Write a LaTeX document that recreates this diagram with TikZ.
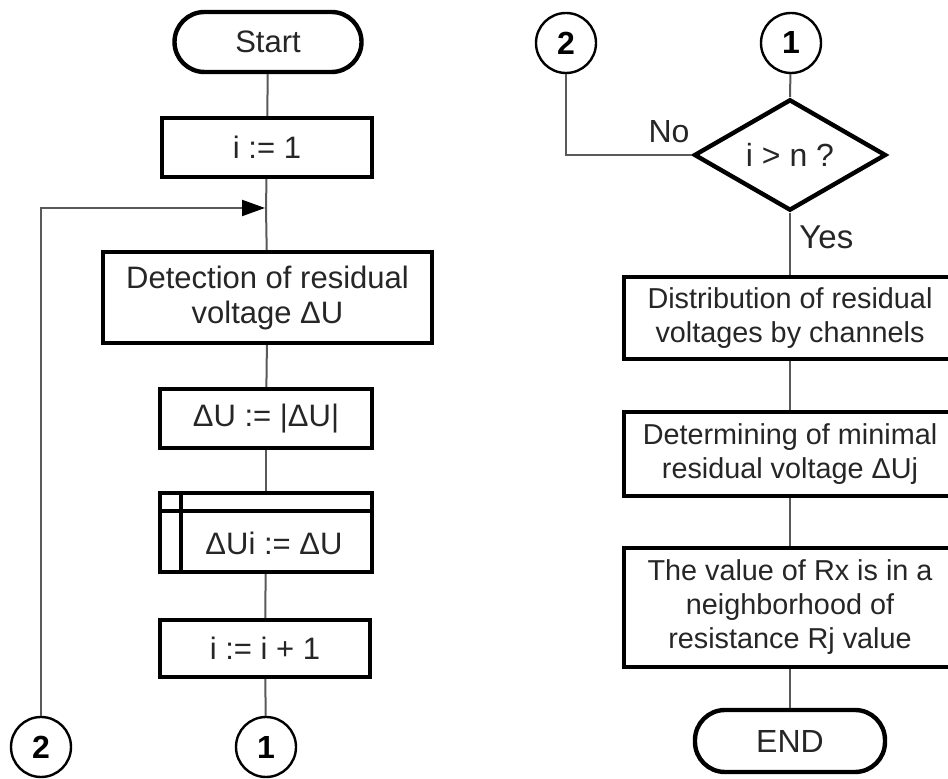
\documentclass[tikz,border=0pt]{standalone}
\usepackage{fontspec}
\setmainfont{Liberation Sans}
\usetikzlibrary{shapes.geometric,arrows.meta}
\begin{document}
\begin{tikzpicture}[x=0.5pt,y=-0.5pt,
  every node/.style={font=\fontsize{15.5}{17.5}\selectfont, text=black!85},
  box/.style={draw=black, line width=2.2pt, inner sep=0pt, align=center, fill=white},
  rbox/.style={box, font=\fontsize{14.4}{17}\selectfont},
  term/.style={box, rounded corners=15pt},
  conn/.style={draw=black, line width=1.2pt, circle, inner sep=0pt, minimum size=30pt, font=\fontsize{16}{18}\selectfont\bfseries, text=black},
  dec/.style={box, diamond, minimum width=96pt, minimum height=54pt, font=\fontsize{16}{18}\selectfont},
  line/.style={draw=black!65, line width=1pt},
  lbl/.style={inner sep=0pt}
]
\useasboundingbox (0,0) rectangle (948,779);
\clip (0,0) rectangle (948,779);
% left column
\node[term, minimum width=93.5pt, minimum height=30pt] (start) at (268,42) {Start};
\node[box, minimum width=105pt, minimum height=29.5pt] (i1) at (267,147.5) {i := 1};
\node[box, minimum width=164.5pt, minimum height=45.5pt] (det) at (267.5,297.5) {Detection of residual\\voltage ΔU};
\node[box, minimum width=106pt, minimum height=29.5pt] (absU) at (266,418.5) {ΔU := |ΔU|};
\node[box, minimum width=106pt, minimum height=39.5pt] (dUi) at (266,532.5) {};
\node[lbl] (dUitxt) at (274,543) {ΔUi := ΔU};
\node[box, minimum width=105pt, minimum height=28.5pt] (inc) at (265,648.5) {i := i + 1};
\node[conn] (c1L) at (266,747) {1};
\node[conn] (c2L) at (41,747) {2};
\coordinate (join) at (266,208);
% predefined-process inner lines
\draw[line width=2.2pt] ([xshift=11.5pt]dUi.north west) -- ([xshift=11.5pt]dUi.south west);
\draw[line width=2.2pt] ([yshift=-10pt]dUi.north west) -- ([yshift=-10pt]dUi.north east);
% right column
\node[conn] (c2R) at (566,43) {2};
\node[conn] (c1R) at (791,43) {1};
\node[dec] (q) at (790,155) {i > n ?};
\node[rbox, minimum width=166pt, minimum height=41pt] (dist) at (790,318) {Distribution of residual\\voltages by channels};
\node[rbox, minimum width=166pt, minimum height=42pt] (detm) at (790,454) {Determining of minimal\\residual voltage ΔUj};
\node[rbox, minimum width=166pt, minimum height=59.5pt] (val) at (790,607.5) {The value of Rx is in a\\neighborhood of\\resistance Rj value};
\node[term, minimum width=95pt, minimum height=31pt, font=\fontsize{16}{18}\selectfont] (end) at (790,741) {END};
\node[lbl, font=\fontsize{16}{18}\selectfont] (no) at (669,132) {No};
\node[lbl, anchor=west, font=\fontsize{16.5}{18}\selectfont] (yes) at (799,237) {Yes};
% connectors
\draw[line] (start) -- (i1);
\draw[line] (i1) -- (join) -- (det);
\draw[line] (det) -- (absU);
\draw[line] (absU) -- (dUi);
\draw[line] (dUi) -- (inc);
\draw[line] (inc) -- (c1L);
\draw[line, -{Triangle[length=11.5pt,width=8pt,color=black,fill=black]}, shorten >=0.5pt] (c2L) |- (join);
\draw[line] (c1R) -- (q.north);
\draw[line] (c2R) |- (q.west);
\draw[line] (q.south) -- (dist);
\draw[line] (dist) -- (detm);
\draw[line] (detm) -- (val);
\draw[line] (val) -- (end);
\end{tikzpicture}
\end{document}
